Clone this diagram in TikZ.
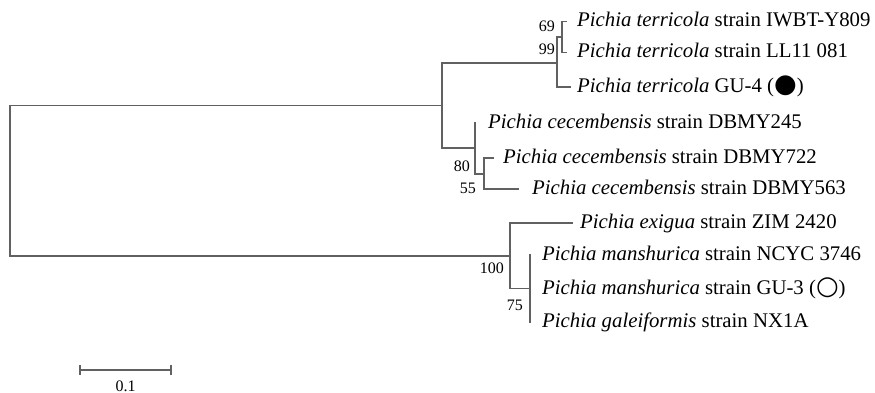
\documentclass[tikz,border=0pt]{standalone}
\usepackage{fontspec}
\setmainfont{Liberation Serif}
\newfontfamily\symfont{DejaVu Sans}
\newcommand{\bigsym}[1]{{\symfont\fontsize{26}{26}\selectfont #1}}
\begin{document}
\begin{tikzpicture}[x=1pt,y=-1pt,
  branch/.style={draw=black!62, line width=1.7pt, line cap=rect},
  taxon/.style={anchor=base west, inner sep=0pt, yshift=-5.5pt,
    font=\fontsize{20.8}{24}\selectfont},
  boot/.style={anchor=base east, inner sep=0pt,
    font=\fontsize{16}{19}\selectfont},
]
\useasboundingbox (0,0) rectangle (875,393);

% internal nodes of the tree
\coordinate (root) at (10,181.5);
\coordinate (nA)   at (442,105.5);
\coordinate (nT)   at (557,63);
\coordinate (nT2)  at (562,37);
\coordinate (nC)   at (475,148);
\coordinate (nC2)  at (484,174);
\coordinate (nM)   at (510,256);
\coordinate (nM2)  at (530,288.5);

% tips
\coordinate (lIW)  at (566,21.5);
\coordinate (lLL)  at (566,52.5);
\coordinate (lG4)  at (570,87);
\coordinate (l245) at (475,123);
\coordinate (l722) at (493,158);
\coordinate (l563) at (518,189);
\coordinate (lEx)  at (572,223);
\coordinate (lNC)  at (530,255);
\coordinate (lG3)  at (530,288.5);
\coordinate (lNX)  at (530,322);

% branches
\draw[branch] (root) |- (nA);
\draw[branch] (root) |- (nM);
\draw[branch] (nA) |- (nT);
\draw[branch] (nA) |- (nC);
\draw[branch] (nT) |- (nT2);
\draw[branch] (nT) |- (lG4);
\draw[branch] (nT2) |- (lIW);
\draw[branch] (nT2) |- (lLL);
\draw[branch] (nC) |- (l245);
\draw[branch] (nC) |- (nC2);
\draw[branch] (nC2) |- (l722);
\draw[branch] (nC2) |- (l563);
\draw[branch] (nM) |- (lEx);
\draw[branch] (nM) |- (nM2);
\draw[branch] (nM2) |- (lNC);
\draw[branch] (nM2) -- (lG3);
\draw[branch] (nM2) |- (lNX);

% taxon labels
\node[taxon] (tIW)  at ([xshift=11pt]lIW)  {\textit{Pichia terricola} strain IWBT-Y809};
\node[taxon] (tLL)  at ([xshift=11pt]lLL)  {\textit{Pichia terricola} strain LL11 081};
\node[taxon] (tG4)  at ([xshift=7pt]lG4)   {\textit{Pichia terricola} GU-4 (\bigsym{●})};
\node[taxon] (t245) at ([xshift=13pt]l245) {\textit{Pichia cecembensis} strain DBMY245};
\node[taxon] (t722) at ([xshift=10pt]l722) {\textit{Pichia cecembensis} strain DBMY722};
\node[taxon] (t563) at ([xshift=14pt]l563) {\textit{Pichia cecembensis} strain DBMY563};
\node[taxon] (tEx)  at ([xshift=8pt]lEx)   {\textit{Pichia exigua} strain ZIM 2420};
\node[taxon] (tNC)  at ([xshift=12pt]lNC)  {\textit{Pichia manshurica} strain NCYC 3746};
\node[taxon] (tG3)  at ([xshift=12pt]lG3)  {\textit{Pichia manshurica} strain GU-3 (\bigsym{○})};
\node[taxon] (tNX)  at ([xshift=12pt]lNX)  {\textit{Pichia galeiformis} strain NX1A};

% bootstrap values
\node[boot] (b69)  at (555,31.5)  {69};
\node[boot] (b99)  at (555,54.5)  {99};
\node[boot] (b80)  at (470,171.5) {80};
\node[boot] (b55)  at (476,193.5) {55};
\node[boot] (b100) at (504,273.5) {100};
\node[boot] (b75)  at (523,310.5) {75};

% scale bar
\coordinate (sL) at (80,370);
\coordinate (sR) at (171,370);
\draw[branch, line cap=butt] (sL) -- (sR);
\draw[branch, line cap=butt] ([yshift=-5pt]sL) -- ([yshift=5pt]sL);
\draw[branch, line cap=butt] ([yshift=-5pt]sR) -- ([yshift=5pt]sR);
\node[boot, anchor=base] (sLab) at (125.5,391) {0.1};
\end{tikzpicture}
\end{document}
